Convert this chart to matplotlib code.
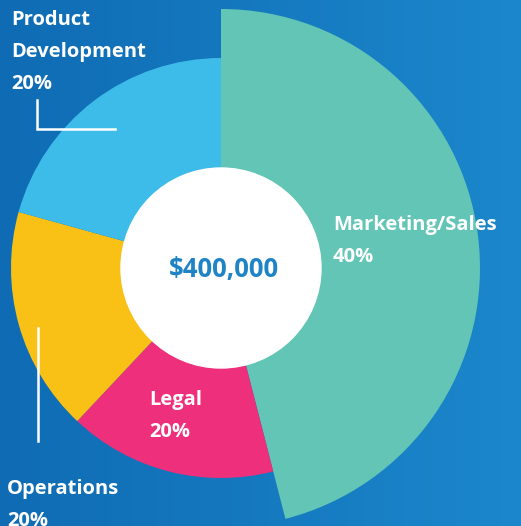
import numpy as np
import matplotlib.pyplot as plt
from matplotlib.patches import Circle
from matplotlib.colors import LinearSegmentedColormap

# data (slice spans as drawn, labels as printed)
categories = ['Marketing/Sales', 'Legal', 'Operations', 'Product\nDevelopment']
shares = [46.0, 16.0, 17.3, 20.7]
share_labels = ['40%', '20%', '20%', '20%']
total_label = '$400,000'

colors = ['#62C5B5', '#EE2F7B', '#F9C016', '#3EBCE9']

W, H = 521, 526
cx, cy = 221, 268          # centre of the donut in pixels
fig = plt.figure(figsize=(W / 100, H / 100), dpi=100)

# background gradient
bg = fig.add_axes([0, 0, 1, 1])
grad = np.linspace(0, 1, 256).reshape(1, -1)
cmap = LinearSegmentedColormap.from_list('bg', ['#0F6CB4', '#1C87CC'])
bg.imshow(grad, aspect='auto', cmap=cmap, extent=[0, 1, 0, 1])
bg.axis('off')

ax = fig.add_axes([0, 0, 1, 1])
ax.patch.set_alpha(0)
wedges, _ = ax.pie(shares, colors=colors, radius=210, startangle=90,
                   counterclock=False,
                   wedgeprops=dict(linewidth=0))
wedges[0].set_radius(259)
ax.add_patch(Circle((0, 0), 100, color='white', zorder=3))
ax.set_xlim(-cx, W - cx)
ax.set_ylim(-(H - cy), cy)
ax.set_aspect('equal')
ax.axis('off')


def px(x, y):
    return x - cx, cy - y


font = 'Open Sans'
txt = dict(color='white', fontsize=14.5, fontweight='bold', family=font,
           ha='left', va='center', zorder=5)

label_pos = [(333, 225), (149, 400), (7, 489), (11, 20)]
for name, pct, (x, y) in zip(categories, share_labels, label_pos):
    lines = name.split('\n') + [pct]
    for i, line in enumerate(lines):
        ax.text(*px(x, y + i * 32), line, **txt)

ax.text(*px(224, 269), total_label, color='#1E84C6', fontsize=18.5,
        fontweight='bold', family=font, ha='center', va='center', zorder=5)

# leader lines
x1, y1 = px(37, 100)
x2, y2 = px(37, 129)
x3, y3 = px(115, 129)
ax.plot([x1, x2, x3], [y1, y2, y3], color='white', lw=1.8, zorder=5,
        solid_joinstyle='miter')
x1, y1 = px(38, 328)
x2, y2 = px(38, 441)
ax.plot([x1, x2], [y1, y2], color='white', lw=1.8, zorder=5)

fig.savefig('out.png', dpi=100)
